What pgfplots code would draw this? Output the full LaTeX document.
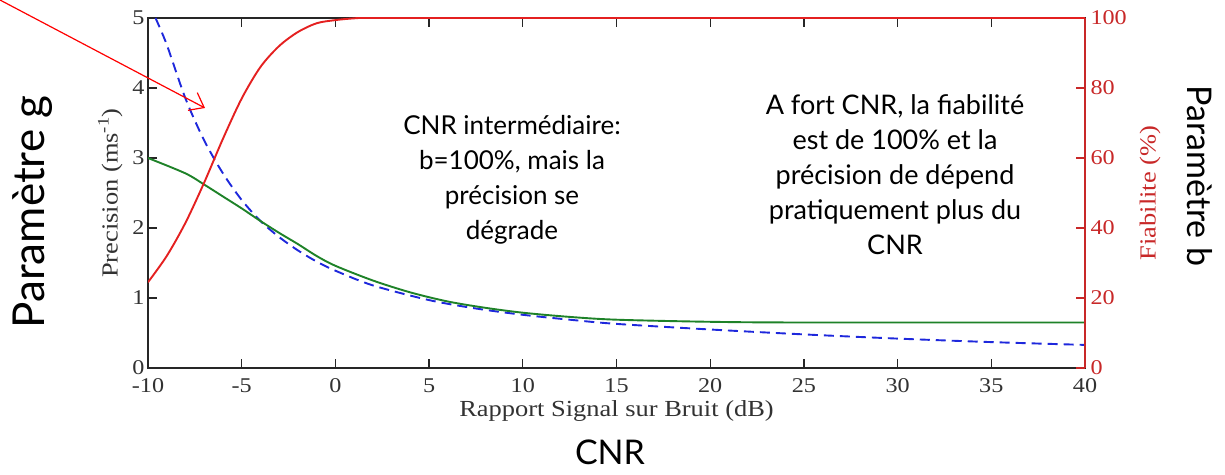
\documentclass[border=0pt]{standalone}
\usepackage{pgfplots}
\pgfplotsset{compat=1.18}
\usepackage{fontspec}
\setmainfont{Liberation Serif}
\newfontfamily\axfont[FakeStretch=1.15]{Liberation Serif}
\newfontfamily\gill{Lato}
\usetikzlibrary{arrows.meta}
\definecolor{cred}{RGB}{228,32,32}
\definecolor{cblue}{RGB}{30,40,220}
\definecolor{cgreen}{RGB}{30,130,40}
\definecolor{axred}{RGB}{200,40,40}
\definecolor{tickgray}{RGB}{50,50,50}

\begin{document}
\begin{tikzpicture}
\useasboundingbox (0,0) rectangle (1225pt,474pt);
% left axis: precision
\begin{axis}[at={(148pt,106pt)}, anchor=south west, scale only axis,
  width=937pt, height=350pt,
  xmin=-10, xmax=40, ymin=0, ymax=5,
  xtick={-10,-5,...,40}, ytick={0,1,...,5},
  tick align=inside, xtick pos=both, ytick pos=left,
  major tick length=9pt,
  axis line style={black!85, line width=1.8pt},
  tick style={black!85, line width=1.3pt},
  /pgf/number format/assume math mode=true,
  ticklabel style={font=\axfont\fontsize{21}{21}\selectfont, text=tickgray},
  xticklabel style={yshift=-7pt},
  xlabel={Rapport Signal sur Bruit (dB)},
  ylabel={Precision (ms\textsuperscript{-1})},
  label style={font=\axfont\fontsize{23}{23}\selectfont, text=tickgray},
  xlabel style={yshift=-1pt}, ylabel style={yshift=3pt}]
\addplot[cblue, line width=1.9pt, dash pattern=on 10pt off 6pt, smooth] coordinates {
  (-9.6,5.0) (-9,4.62) (-8,3.85) (-7,3.25) (-6,2.78) (-5,2.4) (-4,2.1)
  (-3,1.87) (-2,1.68) (-1,1.52) (0,1.39) (2,1.18) (5,0.97) (7.5,0.85)
  (10,0.76) (12.5,0.69) (15,0.63) (20,0.55) (25,0.48) (30,0.42)
  (35,0.37) (40,0.33)};
\addplot[cgreen, line width=1.9pt, smooth] coordinates {
  (-10,3.0) (-8,2.78) (-7,2.62) (-6,2.45) (-5,2.28) (-4,2.1) (-3,1.93)
  (-2,1.77) (-1,1.6) (0,1.46) (2,1.25) (4,1.08) (6,0.95) (8,0.86)
  (10,0.79) (12.5,0.73) (15,0.69) (20,0.66) (25,0.65) (40,0.65)};
\end{axis}
% right axis: fiabilite
\begin{axis}[at={(148pt,106pt)}, anchor=south west, scale only axis,
  width=937pt, height=350pt,
  xmin=-10, xmax=40, ymin=0, ymax=100,
  axis x line=none, axis y line*=right,
  ytick={0,20,...,100},
  tick align=inside, major tick length=9pt,
  axis line style={axred, line width=1.8pt, -},
  tick style={axred, line width=1.3pt},
  /pgf/number format/assume math mode=true,
  yticklabel style={font=\axfont\fontsize{21}{21}\selectfont, text=axred, xshift=2pt},
  ylabel={Fiabilite (\%)},
  ylabel style={font=\axfont\fontsize{23}{23}\selectfont, text=axred, yshift=-6pt}]
\addplot[cred, line width=1.9pt, smooth] coordinates {
  (-10,24.5) (-9,32) (-8,41.5) (-7,53) (-6,65.5) (-5,77) (-4,86)
  (-3,92) (-2,96) (-1,98.5) (0,99.4) (1,99.9) (2,100) (10,100) (40,100)};
\end{axis}
% annotations
\draw[red, line width=1.2pt, -{Straight Barb[length=13pt, width=20pt]}] (0pt,474pt) -- (205pt,366pt);
\node[font=\gill\fontsize{26}{35}\selectfont, align=center] at (512pt,294pt)
  {CNR intermédiaire:\\ b=100\%, mais la\\ précision se\\ dégrade};
\node[font=\gill\fontsize{27}{35}\selectfont, align=center] at (895pt,299pt)
  {A fort CNR, la fiabilité\\ est de 100\% et la\\ précision de dépend\\ pratiquement plus du\\ CNR};
\node[font=\gill\fontsize{44}{44}\selectfont, rotate=90] at (33pt,262pt) {Paramètre g};
\node[font=\gill\fontsize{34}{34}\selectfont, rotate=-90] at (1200pt,298pt) {Paramètre b};
\node[font=\gill\fontsize{34}{34}\selectfont] at (610pt,22pt) {CNR};
\end{tikzpicture}
\end{document}
